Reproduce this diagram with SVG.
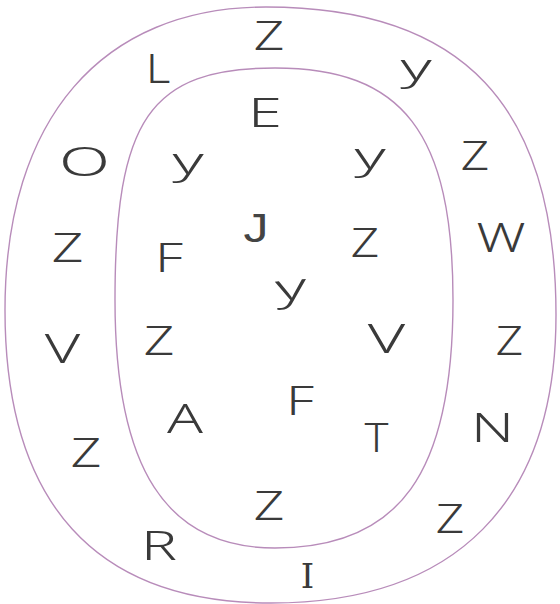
<svg xmlns="http://www.w3.org/2000/svg" width="560" height="604" viewBox="0 0 560 604">
<style>
.ring{fill:none;stroke:#b88cba;stroke-width:1.4}
.t{font-family:"Noto Sans","Liberation Sans",sans-serif;font-weight:300;font-size:41px;fill:#3a3a3a;text-anchor:middle}
.j{font-family:"Liberation Sans",Arial,sans-serif;font-size:40px;fill:#444444;text-anchor:middle}
.i{font-family:"DejaVu Serif",serif;font-weight:300;font-size:34px;fill:#3a3a3a;text-anchor:middle}
.y{font-family:"Noto Sans","DejaVu Sans",sans-serif;font-weight:300;font-size:37px;fill:#3a3a3a;text-anchor:middle}
</style>
<rect width="560" height="604" fill="#ffffff"/>
<g id="rings">
<path class="ring" d="M266,7 C463,7 556,105.6 556,315 C556,502 456,603 271,603 C95.4,603 5,503.4 5,310 C5,119 101.6,7 266,7 Z"/>
<path class="ring" d="M275,68 C403,68 453,133 453,300 C453,473.6 399.6,548 275,548 C166,548 115,468.6 115,300 C115,119 150,68 275,68 Z"/>
</g>
<g id="outer">
<text class="t" x="269" y="50" textLength="30.5" lengthAdjust="spacingAndGlyphs">Z</text>
<text class="t" x="158" y="83" textLength="24.6" lengthAdjust="spacingAndGlyphs">L</text>
<text class="t" x="84.5" y="176" textLength="51" lengthAdjust="spacingAndGlyphs">O</text>
<text class="y" transform="translate(416,80) scale(1.8,1)">y</text>
<text class="t" x="475" y="170" textLength="28.4" lengthAdjust="spacingAndGlyphs">Z</text>
<text class="t" x="501" y="252" textLength="49" lengthAdjust="spacingAndGlyphs">W</text>
<text class="t" x="67.5" y="262" textLength="31.6" lengthAdjust="spacingAndGlyphs">Z</text>
<text class="t" x="62.5" y="363" textLength="35.5" lengthAdjust="spacingAndGlyphs">V</text>
<text class="t" x="509.5" y="355" textLength="27.3" lengthAdjust="spacingAndGlyphs">Z</text>
<text class="t" x="492.5" y="442" textLength="43" lengthAdjust="spacingAndGlyphs">N</text>
<text class="t" x="86" y="467" textLength="30.5" lengthAdjust="spacingAndGlyphs">Z</text>
<text class="t" x="450" y="533" textLength="28.4" lengthAdjust="spacingAndGlyphs">Z</text>
<text class="t" x="159" y="560" textLength="36" lengthAdjust="spacingAndGlyphs">R</text>
<text class="i" x="307.5" y="588">I</text>
</g>
<g id="inner">
<text class="t" x="265" y="127" textLength="34" lengthAdjust="spacingAndGlyphs">E</text>
<text class="y" transform="translate(188,174) scale(1.8,1)">y</text>
<text class="y" transform="translate(370,169) scale(1.8,1)">y</text>
<text class="j" x="256" y="242" textLength="25" lengthAdjust="spacingAndGlyphs">J</text>
<text class="t" x="365" y="257" textLength="28.4" lengthAdjust="spacingAndGlyphs">Z</text>
<text class="t" x="169" y="272" textLength="28" lengthAdjust="spacingAndGlyphs">F</text>
<text class="y" transform="translate(292,300) rotate(-5) scale(1.8,1)">y</text>
<text class="t" x="159" y="355" textLength="30.5" lengthAdjust="spacingAndGlyphs">Z</text>
<text class="t" x="386.5" y="353" textLength="37.5" lengthAdjust="spacingAndGlyphs">V</text>
<text class="t" x="185" y="433" textLength="36" lengthAdjust="spacingAndGlyphs">A</text>
<text class="t" x="300" y="415" textLength="28" lengthAdjust="spacingAndGlyphs">F</text>
<text class="t" x="376.5" y="452" textLength="24" lengthAdjust="spacingAndGlyphs">T</text>
<text class="t" x="269" y="520" textLength="30.5" lengthAdjust="spacingAndGlyphs">Z</text>
</g>
</svg>
